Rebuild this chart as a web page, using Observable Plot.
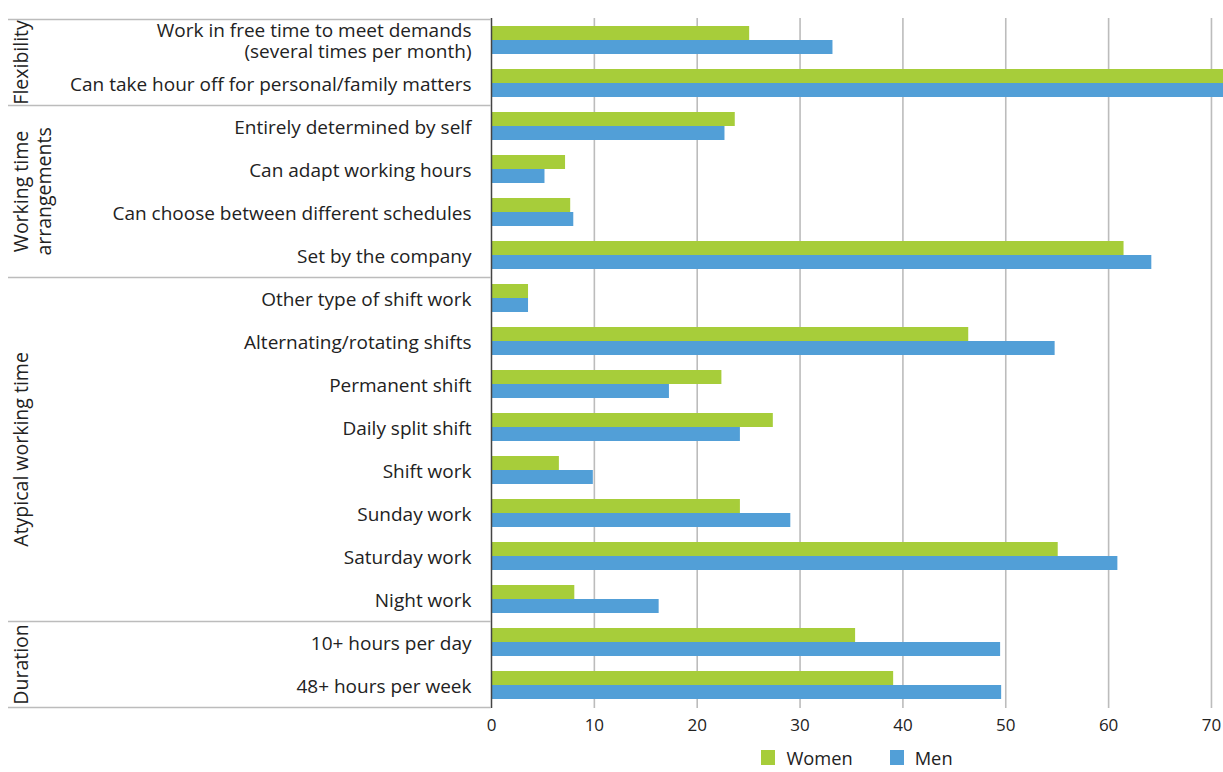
<!DOCTYPE html>
<html>
<head>
<meta charset="utf-8">
<script src="https://cdn.jsdelivr.net/npm/d3@7"></script>
<script src="https://cdn.jsdelivr.net/npm/@observablehq/plot@0.6"></script>
<style>
  html, body { margin: 0; padding: 0; background: #fff; }
  body { width: 1223px; height: 772px; overflow: hidden; font-family: "Open Sans", "Noto Sans", sans-serif; color: #222; }
  #legend { display: flex; justify-content: center; align-items: center; padding-left: 491px; height: 30px; font-size: 18.3px; gap: 37px; }
  .item { display: flex; align-items: center; gap: 11px; }
  .sw { width: 14px; height: 15px; display: inline-block; }
</style>
</head>
<body>
<div id="chart"></div>
<div id="legend"></div>
<script>
const categories = [
  "Work in free time to meet demands\n(several times per month)",
  "Can take hour off for personal/family matters",
  "Entirely determined by self",
  "Can adapt working hours",
  "Can choose between different schedules",
  "Set by the company",
  "Other type of shift work",
  "Alternating/rotating shifts",
  "Permanent shift",
  "Daily split shift",
  "Shift work",
  "Sunday work",
  "Saturday work",
  "Night work",
  "10+ hours per day",
  "48+ hours per week"
];
const women = [25.1, 73, 23.7, 7.2, 7.7, 61.5, 3.6, 46.4, 22.4, 27.4, 6.6, 24.2, 55.1, 8.1, 35.4, 39.1];
const men   = [33.2, 72, 22.7, 5.2, 8.0, 64.2, 3.6, 54.8, 17.3, 24.2, 9.9, 29.1, 60.9, 16.3, 49.5, 49.6];
const groupNames = ["Flexibility", "Working time\narrangements", "Atypical working time", "Duration"];
const groupStarts = [0, 2, 6, 14];
const groupSizes = [2, 4, 8, 2];
const xTicks = [0, 10, 20, 30, 40, 50, 60, 70];
const seriesNames = ["Women", "Men"];
const colors = ["#a7cd3a", "#529fd7"];

const width = 1223, height = 742;
const marginLeft = 491, marginRight = 0, marginTop = 18, marginBottom = 34;
const xMax = 71.17;
const step = (height - marginTop - marginBottom) / categories.length;
const pxPerUnit = (width - marginLeft - marginRight) / xMax;
const toData = px => (px - marginLeft) / pxPerUnit;

const rows = categories.map((c, i) => ({category: c, women: women[i], men: men[i]}));
const groups = groupNames.map((g, i) => ({
  name: g,
  mid: categories[groupStarts[i] + groupSizes[i] / 2]
}));
const sepTop = groupStarts.map(i => categories[i]);
const sepBottom = [categories[categories.length - 1]];

const font = "'Open Sans', 'Noto Sans', sans-serif";
const chart = Plot.plot({
  width, height, marginLeft, marginRight, marginTop, marginBottom,
  style: {fontFamily: font, color: "#222", background: "#fff"},
  x: {domain: [0, xMax], axis: null},
  y: {domain: categories, padding: 0, axis: null},
  marks: [
    Plot.gridX(xTicks.slice(1), {stroke: "#bcbcbc", strokeOpacity: 1, strokeWidth: 1.6}),
    Plot.barX(rows, {x: "women", y: "category", fill: colors[0], insetTop: 7, insetBottom: 22, clip: true}),
    Plot.barX(rows, {x: "men", y: "category", fill: colors[1], insetTop: 21, insetBottom: 8, clip: true}),
    Plot.ruleX([0], {stroke: "#444", strokeWidth: 1.5}),
    Plot.ruleY(sepTop, {y: d => d, dy: -step / 2, x1: toData(8), x2: 0, stroke: "#bcbcbc", strokeWidth: 1.5}),
    Plot.ruleY(sepBottom, {y: d => d, dy: step / 2, x1: toData(8), x2: 0, stroke: "#bcbcbc", strokeWidth: 1.5}),
    Plot.axisY({tickSize: 0, tickPadding: 20, fontSize: 19, lineHeight: 1.1}),
    Plot.axisX(xTicks, {tickSize: 0, tickPadding: 10, fontSize: 17}),
    Plot.text(groups, {x: toData(12), y: "mid", dy: -step / 2, text: "name", rotate: -90, textAnchor: "middle", lineAnchor: "top", fontSize: 19.5, lineHeight: 1.15, fill: "#222"})
  ]
});
document.getElementById("chart").appendChild(chart);

const legend = document.getElementById("legend");
seriesNames.forEach((s, i) => {
  const item = document.createElement("div");
  item.className = "item";
  const sw = document.createElement("span");
  sw.className = "sw";
  sw.style.background = colors[i];
  const label = document.createElement("span");
  label.textContent = s;
  item.appendChild(sw);
  item.appendChild(label);
  legend.appendChild(item);
});
</script>
</body>
</html>
